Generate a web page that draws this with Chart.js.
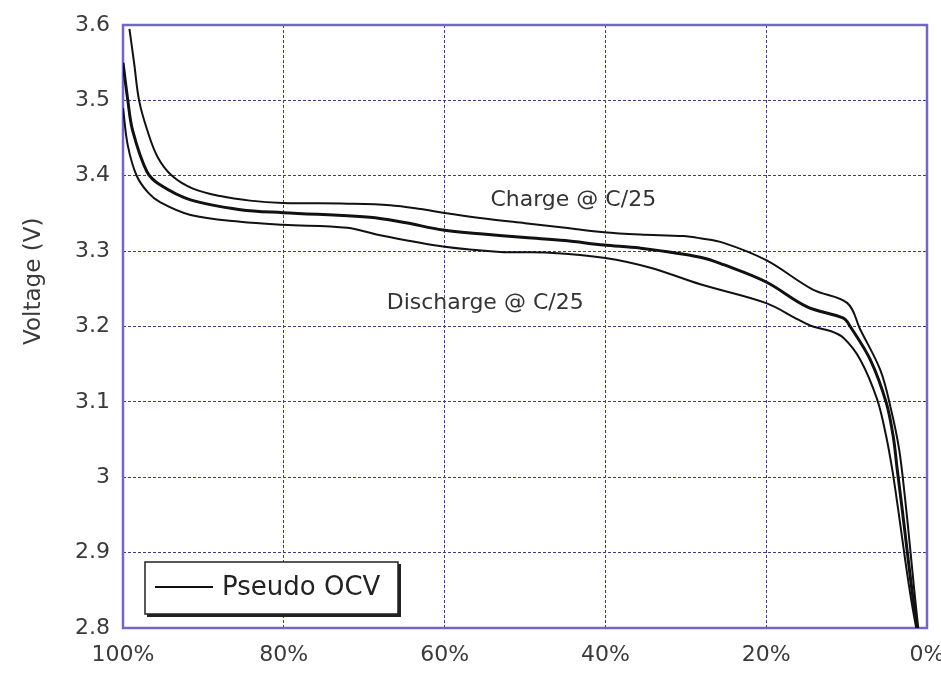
<!DOCTYPE html>
<html>
<head>
<meta charset="utf-8">
<script src="https://cdn.jsdelivr.net/npm/chart.js@4/dist/chart.umd.min.js"></script>
<style>
  html, body { margin: 0; padding: 0; background: #ffffff; }
  #wrap { width: 941px; height: 680px; }
</style>
</head>
<body>
<div id="wrap"><canvas id="c" width="941" height="680"></canvas></div>
<script>
// ---- data (state of charge in %, voltage in V) ----
const chargeSoc = [99.2, 98.6, 98.0, 97.0, 95.7, 93.9, 91.3, 87.9, 84.2, 80.1, 72.1, 66.8, 63.0, 60.2, 55.6, 50.0, 45.0, 40.2, 35.7, 30.3, 28.2, 25.3, 20.0, 14.2, 9.9, 8.3, 5.8, 4.45, 3.45, 2.71, 2.08, 1.59, 1.09];
const chargeV   = [3.595, 3.548, 3.50, 3.461, 3.425, 3.40, 3.383, 3.373, 3.367, 3.364, 3.363, 3.361, 3.356, 3.351, 3.344, 3.337, 3.331, 3.325, 3.322, 3.320, 3.317, 3.311, 3.288, 3.249, 3.231, 3.196, 3.142, 3.089, 3.036, 2.970, 2.904, 2.851, 2.80];

const ocvSoc = [100, 99.4, 98.8, 97.0, 95.4, 91.6, 85.4, 80.1, 69.3, 65.0, 60.2, 55.6, 50.0, 45.0, 40.2, 35.7, 28.2, 25.3, 20.0, 14.9, 10.4, 9.55, 7.06, 5.07, 4.2, 3.7, 3.08, 2.33, 1.71, 1.21];
const ocvV   = [3.55, 3.50, 3.46, 3.405, 3.388, 3.368, 3.355, 3.351, 3.345, 3.338, 3.328, 3.323, 3.318, 3.314, 3.308, 3.304, 3.292, 3.282, 3.259, 3.226, 3.211, 3.200, 3.156, 3.099, 3.054, 3.010, 2.957, 2.890, 2.837, 2.80];

const dischargeSoc = [100, 99.4, 98.3, 96.9, 95.4, 91.6, 85.4, 80.1, 72.1, 68.0, 60.2, 53.1, 47.0, 40.0, 34.4, 28.2, 20.0, 16.0, 14.2, 12.0, 10.4, 8.3, 6.19, 5.07, 4.32, 3.58, 2.71, 1.96, 1.34];
const dischargeV   = [3.49, 3.44, 3.40, 3.378, 3.365, 3.348, 3.339, 3.335, 3.331, 3.321, 3.306, 3.299, 3.298, 3.291, 3.278, 3.256, 3.231, 3.209, 3.200, 3.194, 3.185, 3.156, 3.103, 3.054, 3.010, 2.957, 2.890, 2.837, 2.80];

const seriesLabels = ['Charge @ C/25', 'Pseudo OCV', 'Discharge @ C/25'];
const yTicks = [2.8, 2.9, 3.0, 3.1, 3.2, 3.3, 3.4, 3.5, 3.6];
const xTicks = [0, 20, 40, 60, 80, 100];
const yTitle = 'Voltage (V)';

// annotation texts placed in data coordinates
const noteTexts = ['Charge @ C/25', 'Discharge @ C/25'];
const noteSoc = [54.3, 67.2];
const noteV = [3.368, 3.231];

const toPts = (xs, ys) => xs.map((x, i) => ({ x: x, y: ys[i] }));

const FONT = "'DejaVu Sans', 'Liberation Sans', Arial, sans-serif";
const FRAME = '#7068c4';

const framePlugin = {
  id: 'frame',
  beforeDatasetsDraw(chart) {
    const { ctx, chartArea: a } = chart;
    ctx.save();
    ctx.strokeStyle = FRAME;
    ctx.lineWidth = 2.5;
    ctx.strokeRect(a.left, a.top, a.right - a.left, a.bottom - a.top);
    ctx.restore();
  },
  afterDraw(chart) {
    const { ctx, chartArea: a, scales } = chart;
    ctx.save();
    // y axis title
    ctx.fillStyle = '#3a3a3a';
    ctx.font = '23px ' + FONT;
    ctx.textAlign = 'center';
    ctx.textBaseline = 'middle';
    ctx.translate(34, scales.y.getPixelForValue(3.26));
    ctx.rotate(-Math.PI / 2);
    ctx.fillText(yTitle, 0, 0);
    ctx.restore();

    // annotations
    ctx.save();
    ctx.fillStyle = '#333333';
    ctx.font = '22px ' + FONT;
    ctx.textAlign = 'left';
    ctx.textBaseline = 'middle';
    noteTexts.forEach((t, i) => {
      ctx.fillText(t, scales.x.getPixelForValue(noteSoc[i]), scales.y.getPixelForValue(noteV[i]));
    });
    ctx.restore();

    // legend box
    ctx.save();
    const bx = a.left + 22, by = a.bottom - 66, bw = 253, bh = 52;
    ctx.fillStyle = '#ffffff';
    ctx.fillRect(bx, by, bw, bh);
    ctx.strokeStyle = '#222222';
    ctx.lineWidth = 3;
    ctx.beginPath();
    ctx.moveTo(bx + 2, by + bh + 1.5);
    ctx.lineTo(bx + bw + 1.5, by + bh + 1.5);
    ctx.lineTo(bx + bw + 1.5, by + 2);
    ctx.stroke();
    ctx.lineWidth = 1.5;
    ctx.strokeRect(bx, by, bw, bh);
    ctx.strokeStyle = '#111111';
    ctx.lineWidth = 2;
    ctx.beginPath();
    ctx.moveTo(bx + 10, by + 25);
    ctx.lineTo(bx + 68, by + 25);
    ctx.stroke();
    ctx.fillStyle = '#222222';
    ctx.font = '26px ' + FONT;
    ctx.textAlign = 'left';
    ctx.textBaseline = 'middle';
    ctx.fillText(chart.data.datasets[1].label, bx + 77, by + 26);
    ctx.restore();
  }
};

const baseDs = {
  borderColor: '#111111',
  backgroundColor: '#111111',
  pointRadius: 0,
  fill: false,
  tension: 0.35
};

new Chart(document.getElementById('c'), {
  type: 'line',
  data: {
    datasets: [
      Object.assign({}, baseDs, { label: seriesLabels[0], data: toPts(chargeSoc, chargeV), borderWidth: 2 }),
      Object.assign({}, baseDs, { label: seriesLabels[1], data: toPts(ocvSoc, ocvV), borderWidth: 3 }),
      Object.assign({}, baseDs, { label: seriesLabels[2], data: toPts(dischargeSoc, dischargeV), borderWidth: 2 })
    ]
  },
  options: {
    responsive: false,
    animation: false,
    layout: { padding: { left: 0, top: 25, right: 14, bottom: 0 } },
    plugins: { legend: { display: false }, tooltip: { enabled: false } },
    scales: {
      x: {
        type: 'linear',
        reverse: true,
        min: 0,
        max: 100,
        afterBuildTicks(s) { s.ticks = xTicks.map(v => ({ value: v })); },
        afterFit(s) { s.height = 52; s.paddingLeft = 0; s.paddingRight = 0; },
        border: { display: false, dash: [3, 2] },
        grid: { color: '#3d3d80', lineWidth: 1, drawTicks: false },
        ticks: {
          padding: 14,
          color: '#3a3a3a',
          font: { family: FONT, size: 22 },
          maxRotation: 0,
          callback: v => v + '%'
        }
      },
      y: {
        min: 2.8,
        max: 3.6,
        afterBuildTicks(s) { s.ticks = yTicks.map(v => ({ value: v })); },
        afterFit(s) { s.width = 123; s.paddingTop = 0; s.paddingBottom = 0; },
        border: { display: false, dash: [3, 2] },
        grid: { color: '#3d3d80', lineWidth: 1, drawTicks: false },
        ticks: {
          padding: 13,
          color: '#3a3a3a',
          font: { family: FONT, size: 22 },
          callback: v => String(Number(v.toFixed(1)))
        }
      }
    }
  },
  plugins: [framePlugin]
});
</script>
</body>
</html>
